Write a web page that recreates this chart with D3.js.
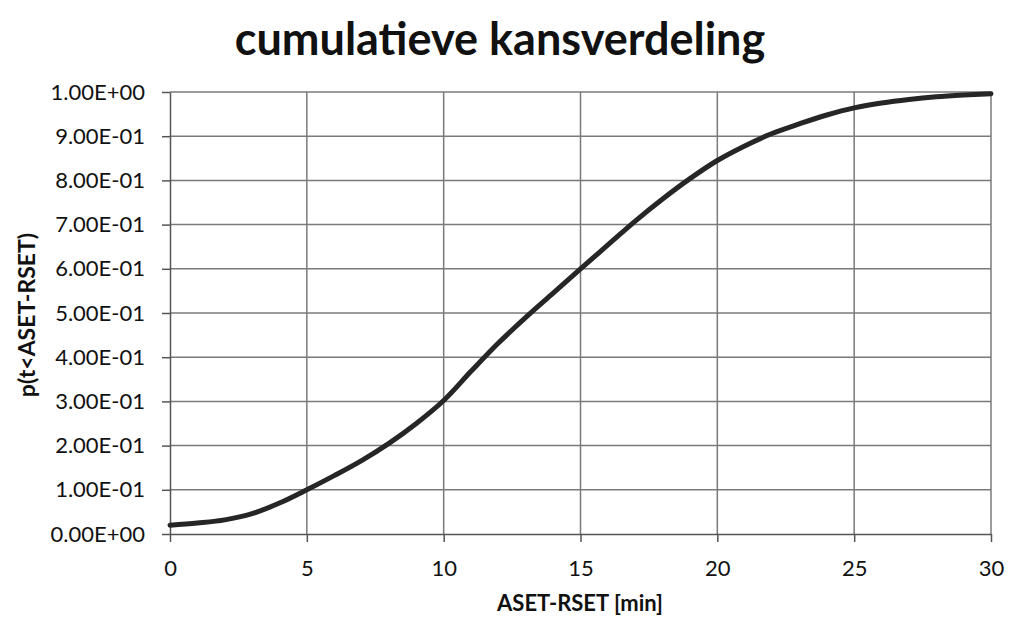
<html>
<head>
<script src="https://d3js.org/d3.v7.min.js"></script>
<style>
    body { margin: 0; background: #fff; }
    text { font-family: Lato, "Open Sans", sans-serif; fill: #111; }
    .grid line { stroke: #7a7a7a; stroke-width: 1.5px; }
    .axis path, .axis line { stroke: #555; stroke-width: 1.5px; }
</style>
</head>
<body>
<svg id="chart" width="1009" height="620"></svg>
<script>
    // readings
    const minutes = [0, 1, 2, 3, 4, 5, 6, 7, 8, 9, 10, 11, 12, 13, 14, 15, 16, 17, 18, 19, 20, 21, 22, 23, 24, 25, 26, 27, 28, 29, 30];
    const prob = [0.02, 0.025, 0.032, 0.046, 0.07, 0.10, 0.132, 0.166, 0.205, 0.25, 0.302, 0.368, 0.432, 0.49, 0.545, 0.60, 0.654, 0.708, 0.758, 0.804, 0.845, 0.878, 0.906, 0.928, 0.948, 0.964, 0.975, 0.983, 0.989, 0.993, 0.996];
    const xTicks = [0, 5, 10, 15, 20, 25, 30];
    const yTicks = [0, 0.1, 0.2, 0.3, 0.4, 0.5, 0.6, 0.7, 0.8, 0.9, 1.0];
    const yLabels = ["0.00E+00", "1.00E-01", "2.00E-01", "3.00E-01", "4.00E-01", "5.00E-01",
                     "6.00E-01", "7.00E-01", "8.00E-01", "9.00E-01", "1.00E+00"];

    const svg = d3.select("#chart");
    const plotLeft = 170, plotRight = 991, plotTop = 92, plotBottom = 534;

    const x = d3.scaleLinear().domain([0, 30]).range([plotLeft, plotRight]);
    const y = d3.scaleLinear().domain([0, 1]).range([plotBottom, plotTop]);

    // gridlines
    svg.append("g").attr("class", "grid")
        .selectAll("line").data(yTicks.slice(1)).join("line")
        .attr("x1", plotLeft).attr("x2", plotRight)
        .attr("y1", d => y(d)).attr("y2", d => y(d));
    svg.append("g").attr("class", "grid")
        .selectAll("line").data(xTicks.slice(1)).join("line")
        .attr("x1", d => x(d)).attr("x2", d => x(d))
        .attr("y1", plotTop).attr("y2", plotBottom);

    // axes
    const yAxis = svg.append("g").attr("class", "axis")
        .attr("transform", "translate(" + plotLeft + ",0)")
        .call(d3.axisLeft(y).tickValues(yTicks).tickSize(8).tickSizeOuter(0)
            .tickFormat((d, i) => yLabels[i]));
    yAxis.selectAll("text").attr("font-size", 22).attr("x", -25);

    const xAxis = svg.append("g").attr("class", "axis")
        .attr("transform", "translate(0," + plotBottom + ")")
        .call(d3.axisBottom(x).tickValues(xTicks).tickSize(8).tickSizeOuter(0));
    xAxis.selectAll("text").attr("font-size", 22).attr("y", 26);
    svg.selectAll(".axis text").style("font-family", "Lato, 'Open Sans', sans-serif").attr("fill", "#111");

    // curve
    const line = d3.line()
        .x((d, i) => x(minutes[i]))
        .y(d => y(d))
        .curve(d3.curveCatmullRom);
    svg.append("path")
        .datum(prob)
        .attr("d", line)
        .attr("fill", "none")
        .attr("stroke", "#262626")
        .attr("stroke-width", 5)
        .attr("stroke-linecap", "round");

    // titles
    svg.append("text")
        .attr("x", 500).attr("y", 55)
        .attr("text-anchor", "middle")
        .attr("font-size", 45).attr("font-weight", "bold")
        .text("cumulatieve kansverdeling");

    svg.append("text")
        .attr("x", 580).attr("y", 611)
        .attr("text-anchor", "middle")
        .attr("font-size", 22).attr("font-weight", "bold")
        .text("ASET-RSET [min]");

    svg.append("text")
        .attr("transform", "translate(35,315) rotate(-90)")
        .attr("text-anchor", "middle")
        .attr("font-size", 23).attr("font-weight", "bold")
        .text("p(t<ASET-RSET)");
</script>
</body>
</html>
